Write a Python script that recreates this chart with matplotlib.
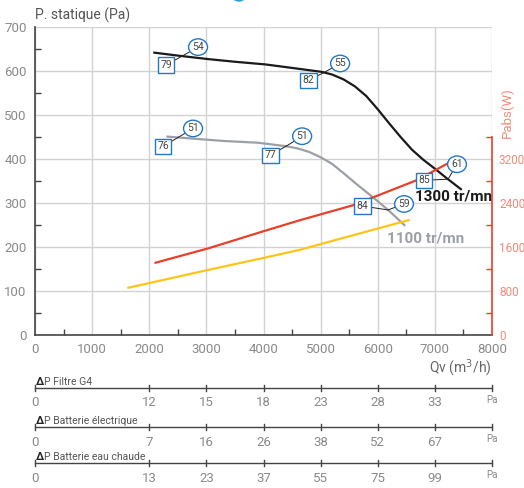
import numpy as np
import matplotlib.pyplot as plt
from matplotlib.patches import Ellipse
from matplotlib.ticker import MultipleLocator

plt.rcParams['font.family'] = ['Roboto', 'DejaVu Sans']

# courbes pression statique (Pa) en fonction du debit (m3/h)
qv_1300 = [2070, 2500, 3035, 3500, 4030, 4500, 5020, 5200, 5400, 5600, 5800, 6000,
           6200, 6400, 6600, 6800, 7000, 7200, 7470]
ps_1300 = [642, 635, 627, 621, 615, 607, 598, 592, 581, 565, 543, 513,
           481, 450, 421, 398, 378, 357, 330]
qv_1100 = [2300, 2800, 3300, 3900, 4400, 4600, 4800, 5000, 5200, 5400, 5600, 5800,
           6000, 6200, 6480]
ps_1100 = [451, 446, 441, 437, 429, 424, 416, 404, 389, 368, 346, 325,
           304, 282, 248]

# puissance absorbee (W)
qv_pabs_1300 = [2110, 3035, 4030, 4640, 5570, 6685, 7240]
pabs_1300 = [1314, 1576, 1896, 2088, 2360, 2816, 3128]
qv_pabs_1100 = [1635, 2500, 3035, 4030, 4640, 5460, 6540]
pabs_1100 = [860, 1060, 1184, 1408, 1550, 1784, 2088]

# etiquettes (courbe, debit, carre, cercle)
labels = [
    ('1300', 2574, '79', '54', (-16, -9), (16, 9)),
    ('1300', 5061, '82', '55', (-16, -8), (16, 9)),
    ('1100', 2504, '76', '51', (-15, -9), (15, 9)),
    ('1100', 4396, '77', '51', (-16, -9), (16, 10)),
    ('1100', 6180, '84', '59', (-26, 4), (16, 6)),
    ('1300', 7230, '85', '61', (-24, -1), (9, 15)),
]

# pertes de charge accessoires
dp_names = ['P Filtre G4', 'P Batterie électrique', 'P Batterie eau chaude']
dp_qv = [0, 2000, 3000, 4000, 5000, 6000, 7000]
dp_vals = [['0', '12', '15', '18', '23', '28', '33'],
           ['0', '7', '16', '26', '38', '52', '67'],
           ['0', '13', '23', '37', '55', '75', '99']]

W, H = 524, 488
fig = plt.figure(figsize=(W / 100, H / 100), dpi=100)
ax = fig.add_axes([35 / W, 1 - 335 / H, 457 / W, 308 / H])
ax.set_xlim(0, 8000)
ax.set_ylim(0, 700)
ax.xaxis.set_major_locator(MultipleLocator(1000))
ax.xaxis.set_minor_locator(MultipleLocator(500))
ax.yaxis.set_major_locator(MultipleLocator(100))
ax.yaxis.set_minor_locator(MultipleLocator(50))
ax.grid(True, which='major', color='#d2d2d2', lw=1.0)
ax.tick_params(which='major', length=0, labelsize=9.5, labelcolor='#8a8a8a', pad=6)
ax.tick_params(which='minor', direction='in', length=4, color='#444', width=1)
for s in ['top', 'right']:
    ax.spines[s].set_visible(False)
for s in ['left', 'bottom']:
    ax.spines[s].set_color('#444')
    ax.spines[s].set_linewidth(1.2)

ax.plot(qv_1300, ps_1300, color='#1a1a1a', lw=1.6, solid_capstyle='butt')
ax.plot(qv_1100, ps_1100, color='#9ca0a6', lw=1.6, solid_capstyle='butt')

ax2 = ax.twinx()
ax2.set_ylim(0, 5600)
ax2.set_yticks([400, 1200, 2000, 2800, 3600], minor=True)
ax2.set_yticks([0, 800, 1600, 2400, 3200])
for s in ['top', 'left', 'bottom']:
    ax2.spines[s].set_visible(False)
ax2.spines['right'].set_color('#e8402a')
ax2.spines['right'].set_linewidth(1.2)
ax2.spines['right'].set_bounds(0, 3600)
ax2.tick_params(which='major', length=0, labelsize=8.5, labelcolor='#f28b7b', pad=5)
ax2.tick_params(which='minor', direction='in', length=4, color='#e8402a', width=1)
ax2.plot(qv_pabs_1300, pabs_1300, color='#e8402a', lw=1.6)
ax2.plot(qv_pabs_1100, pabs_1100, color='#ffc415', lw=1.6)

curves = {'1300': (qv_1300, ps_1300), '1100': (qv_1100, ps_1100)}
for name, q, sq, ci, off_sq, off_ci in labels:
    qq, pp = curves[name]
    p = np.interp(q, qq, pp)
    ax2.annotate(sq, xy=(q, p), xycoords=ax.transData, xytext=off_sq,
                 textcoords='offset pixels', ha='center', va='center',
                 fontsize=7.5, color='#444',
                 bbox=dict(boxstyle='square,pad=0.25', fc='white', ec='#1f78c8', lw=1),
                 arrowprops=dict(arrowstyle='-', color='#222', lw=0.7, shrinkA=0, shrinkB=0))
    ax2.annotate(ci, xy=(q, p), xycoords=ax.transData, xytext=off_ci,
                 textcoords='offset pixels', ha='center', va='center',
                 fontsize=7.5, color='#444',
                 bbox=dict(boxstyle='ellipse,pad=0.08', fc='white', ec='#1f78c8', lw=1),
                 arrowprops=dict(arrowstyle='-', color='#222', lw=0.7, shrinkA=0, shrinkB=0))

ax.text(6655, 314, '1300 tr/mn', fontsize=11, fontweight='bold', color='#1a1a1a',
        ha='left', va='center')
ax.text(6165, 220, '1100 tr/mn', fontsize=11, fontweight='bold', color='#9ca0a6',
        ha='left', va='center')
ax.text(0, 727, 'P. statique (Pa)', fontsize=10, color='#555', ha='left', va='center')
ax2.text(8270, 4040, 'Pabs(W)', fontsize=9.5, color='#f28b7b', rotation=90,
         ha='center', va='center')
ax.text(8000, -75, 'Qv (m$^3$/h)', fontsize=10, color='#666', ha='right', va='center')

# echelles de pertes de charge
axb = fig.add_axes([35 / W, 0, 457 / W, 133 / H])
axb.set_xlim(0, 8000)
axb.set_ylim(488, 355)
axb.axis('off')
line_y = [388, 427, 463]
for i, name in enumerate(dp_names):
    y = line_y[i]
    axb.plot([0, 8000], [y, y], color='#444', lw=1, clip_on=False)
    for q in dp_qv + [8000]:
        axb.plot([q, q], [y - 3, y + 3], color='#444', lw=1, clip_on=False)
    for q, v in zip(dp_qv, dp_vals[i]):
        axb.text(q, y + 15, v, fontsize=9.5, color='#8a8a8a', ha='center', va='center')
    axb.text(8000, y + 12, 'Pa', fontsize=7, color='#8a8a8a', ha='center', va='center')
    axb.annotate('Δ', xy=(0, y - 6), xytext=(1, 0), textcoords='offset pixels',
                 fontsize=8, fontweight='bold', color='#222', ha='left', va='center')
    axb.annotate(name, xy=(0, y - 6), xytext=(9, 0), textcoords='offset pixels',
                 fontsize=7.5, color='#555', ha='left', va='center')

fig.patches.append(Ellipse((239 / W, 1 + 7 / H), 16 / W, 16 / H,
                           transform=fig.transFigure, color='#2a9fd8'))

fig.savefig('out.png', dpi=100)
